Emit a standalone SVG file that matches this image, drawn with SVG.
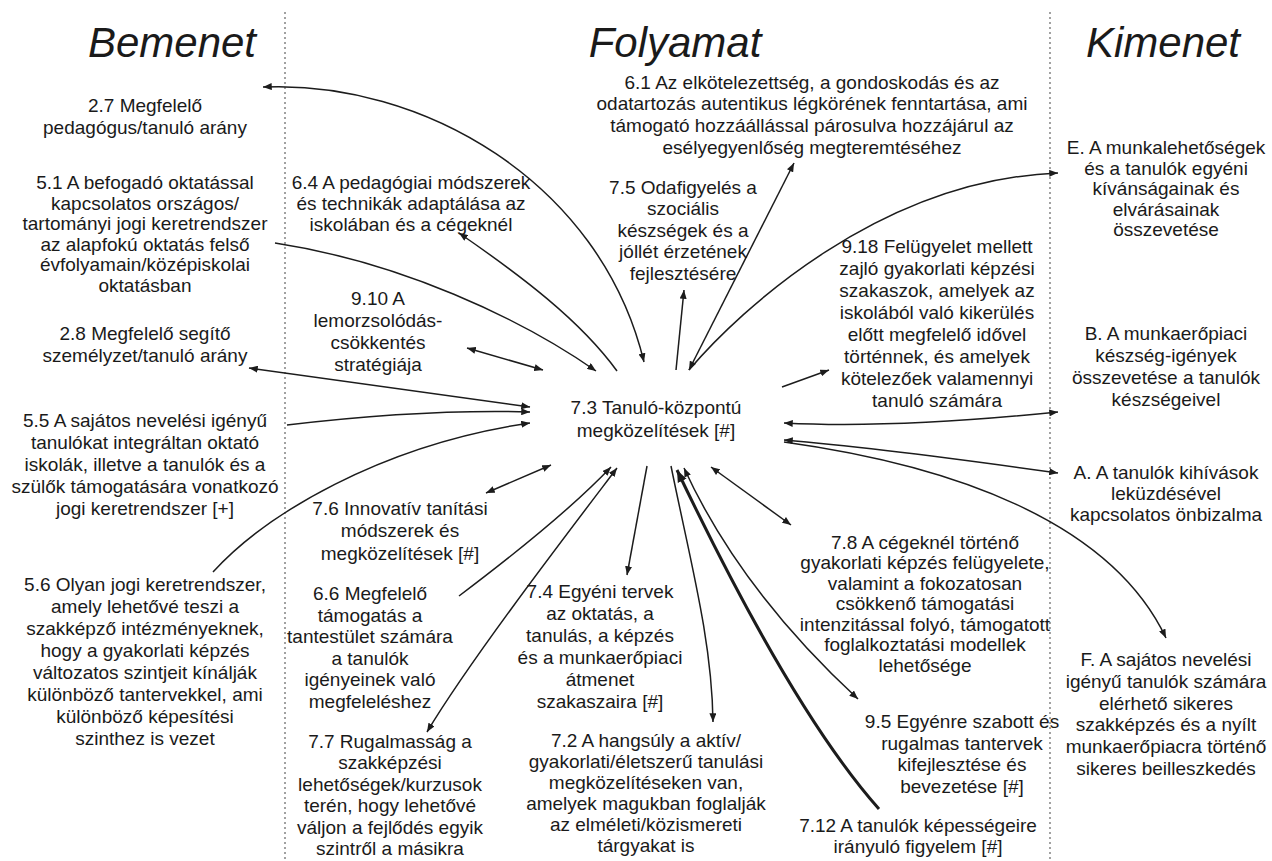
<svg xmlns="http://www.w3.org/2000/svg" width="1272" height="861" viewBox="0 0 1272 861">
<defs>
<marker id="ah" viewBox="0 0 10 8" refX="10" refY="4" markerUnits="userSpaceOnUse" markerWidth="9" markerHeight="7" orient="auto-start-reverse"><path d="M0,0 L10,4 L0,8 z" fill="#1c1c1c"/></marker>
<marker id="ahb" viewBox="0 0 10 8" refX="10" refY="4" markerUnits="userSpaceOnUse" markerWidth="12" markerHeight="10" orient="auto-start-reverse"><path d="M0,0 L10,4 L0,8 z" fill="#1c1c1c"/></marker>
</defs>
<style>
text{font-family:"Liberation Sans",Arial,sans-serif;font-size:19px;fill:#1a1a1a;text-anchor:middle}
.h{font-size:42px;font-style:italic}
.sep{stroke:#8a8a8a;stroke-width:1.6;stroke-dasharray:2 3;fill:none}
.c{stroke:#1c1c1c;stroke-width:1.5;fill:none}
.t{stroke:#1c1c1c;stroke-width:3;fill:none}
</style>
<rect width="1272" height="861" fill="#fff"/>
<line class="sep" x1="285" y1="12" x2="285" y2="861"/>
<line class="sep" x1="1050" y1="12" x2="1050" y2="861"/>
<text class="h" x="172" y="57">Bemenet</text>
<text class="h" x="675" y="57">Folyamat</text>
<text class="h" x="1163" y="57">Kimenet</text>
<g id="connectors">
<path class="c" d="M644,362 C600,180 420,80 263,87" marker-end="url(#ah)" marker-start="url(#ah)"/>
<path class="c" d="M275,243 C400,262 520,318 596,371" marker-end="url(#ah)"/>
<path class="c" d="M617,371 C580,320 520,275 459,233" marker-end="url(#ah)"/>
<path class="c" d="M467,348 L543,370" marker-start="url(#ah)" marker-end="url(#ah)"/>
<path class="c" d="M249,368 L530,407" marker-start="url(#ah)" marker-end="url(#ah)"/>
<path class="c" d="M287,425 C380,414 460,410 530,412" marker-end="url(#ah)"/>
<path class="c" d="M213,572 C265,515 380,445 530,423" marker-end="url(#ah)"/>
<path class="c" d="M486,493 L551,465" marker-start="url(#ah)" marker-end="url(#ah)"/>
<path class="c" d="M459,596 C520,550 575,505 611,467" marker-end="url(#ah)"/>
<path class="c" d="M427,732 C470,660 570,530 617,468" marker-start="url(#ah)" marker-end="url(#ah)"/>
<path class="c" d="M647,466 L627,575" marker-end="url(#ah)"/>
<path class="c" d="M671,466 C690,560 712,640 713,722" marker-end="url(#ah)"/>
<path class="t" d="M879,809 C800,720 720,560 677,470" marker-end="url(#ahb)"/>
<path class="c" d="M858,699 Q740,590 684,468" marker-start="url(#ah)" marker-end="url(#ah)"/>
<path class="c" d="M711,467 L791,525" marker-start="url(#ah)" marker-end="url(#ah)"/>
<path class="c" d="M676,370 L684,290" marker-end="url(#ah)"/>
<path class="c" d="M689,370 L794,163" marker-start="url(#ah)" marker-end="url(#ah)"/>
<path class="c" d="M689,370 C740,310 880,180 1058,173" marker-end="url(#ah)"/>
<path class="c" d="M782,387 L829,370" marker-end="url(#ah)"/>
<path class="c" d="M784,423 C880,428 980,420 1058,412" marker-start="url(#ah)" marker-end="url(#ah)"/>
<path class="c" d="M784,440 C880,448 980,462 1058,473" marker-start="url(#ah)" marker-end="url(#ah)"/>
<path class="c" d="M784,442 C950,465 1110,520 1166,638" marker-end="url(#ah)"/>
</g>
<g id="n27"><text x="145" y="112">2.7 Megfelelő</text><text x="145" y="134">pedagógus/tanuló arány</text></g>
<g id="n51"><text x="145" y="189">5.1 A befogadó oktatással</text><text x="145" y="210">kapcsolatos országos/</text><text x="145" y="230">tartományi jogi keretrendszer</text><text x="145" y="251">az alapfokú oktatás felső</text><text x="145" y="271">évfolyamain/középiskolai</text><text x="145" y="292">oktatásban</text></g>
<g id="n28"><text x="145" y="340">2.8 Megfelelő segítő</text><text x="145" y="362">személyzet/tanuló arány</text></g>
<g id="n55"><text x="145" y="427">5.5 A sajátos nevelési igényű</text><text x="145" y="449">tanulókat integráltan oktató</text><text x="145" y="471">iskolák, illetve a tanulók és a</text><text x="145" y="493">szülők támogatására vonatkozó</text><text x="145" y="515">jogi keretrendszer [+]</text></g>
<g id="n56"><text x="145" y="591">5.6 Olyan jogi keretrendszer,</text><text x="145" y="613">amely lehetővé teszi a</text><text x="145" y="635">szakképző intézményeknek,</text><text x="145" y="657">hogy a gyakorlati képzés</text><text x="145" y="679">változatos szintjeit kínálják</text><text x="145" y="701">különböző tantervekkel, ami</text><text x="145" y="723">különböző képesítési</text><text x="145" y="745">szinthez is vezet</text></g>
<g id="n64"><text x="411" y="189">6.4 A pedagógiai módszerek</text><text x="411" y="210">és technikák adaptálása az</text><text x="411" y="231">iskolában és a cégeknél</text></g>
<g id="n910"><text x="378" y="305">9.10 A</text><text x="378" y="327">lemorzsolódás-</text><text x="378" y="349">csökkentés</text><text x="378" y="371">stratégiája</text></g>
<g id="n76"><text x="400" y="515">7.6 Innovatív tanítási</text><text x="400" y="537">módszerek és</text><text x="400" y="560">megközelítések [#]</text></g>
<g id="n66"><text x="370" y="600">6.6 Megfelelő</text><text x="370" y="622">támogatás a</text><text x="370" y="643">tantestület számára</text><text x="370" y="665">a tanulók</text><text x="370" y="686">igényeinek való</text><text x="370" y="708">megfeleléshez</text></g>
<g id="n77"><text x="390" y="748">7.7 Rugalmasság a</text><text x="390" y="769">szakképzési</text><text x="390" y="791">lehetőségek/kurzusok</text><text x="390" y="812">terén, hogy lehetővé</text><text x="390" y="834">váljon a fejlődés egyik</text><text x="390" y="855">szintről a másikra</text></g>
<g id="n61"><text x="812" y="89">6.1 Az elkötelezettség, a gondoskodás és az</text><text x="812" y="110">odatartozás autentikus légkörének fenntartása, ami</text><text x="812" y="132">támogató hozzáállással párosulva hozzájárul az</text><text x="812" y="154">esélyegyenlőség megteremtéséhez</text></g>
<g id="n75"><text x="683" y="194">7.5 Odafigyelés a</text><text x="683" y="215">szociális</text><text x="683" y="237">készségek és a</text><text x="683" y="258">jóllét érzetének</text><text x="683" y="280">fejlesztésére</text></g>
<g id="n73"><text x="656" y="414">7.3 Tanuló-központú</text><text x="656" y="437">megközelítések [#]</text></g>
<g id="n918"><text x="937" y="253">9.18 Felügyelet mellett</text><text x="937" y="275">zajló gyakorlati képzési</text><text x="937" y="297">szakaszok, amelyek az</text><text x="937" y="319">iskolából való kikerülés</text><text x="937" y="341">előtt megfelelő idővel</text><text x="937" y="363">történnek, és amelyek</text><text x="937" y="385">kötelezőek valamennyi</text><text x="937" y="407">tanuló számára</text></g>
<g id="n74"><text x="600" y="598">7.4 Egyéni tervek</text><text x="600" y="620">az oktatás, a</text><text x="600" y="642">tanulás, a képzés</text><text x="600" y="664">és a munkaerőpiaci</text><text x="600" y="686">átmenet</text><text x="600" y="708">szakaszaira [#]</text></g>
<g id="n72"><text x="646" y="747">7.2 A hangsúly a aktív/</text><text x="646" y="768">gyakorlati/életszerű tanulási</text><text x="646" y="789">megközelítéseken van,</text><text x="646" y="810">amelyek magukban foglalják</text><text x="646" y="831">az elméleti/közismereti</text><text x="646" y="852">tárgyakat is</text></g>
<g id="n78"><text x="925" y="549">7.8 A cégeknél történő</text><text x="925" y="569">gyakorlati képzés felügyelete,</text><text x="925" y="590">valamint a fokozatosan</text><text x="925" y="610">csökkenő támogatási</text><text x="925" y="631">intenzitással folyó, támogatott</text><text x="925" y="651">foglalkoztatási modellek</text><text x="925" y="672">lehetősége</text></g>
<g id="n95"><text x="962" y="728">9.5 Egyénre szabott és</text><text x="962" y="750">rugalmas tantervek</text><text x="962" y="771">kifejlesztése és</text><text x="962" y="793">bevezetése [#]</text></g>
<g id="n712"><text x="918" y="832">7.12 A tanulók képességeire</text><text x="918" y="853">irányuló figyelem [#]</text></g>
<g id="nE"><text x="1166" y="154">E. A munkalehetőségek</text><text x="1166" y="175">és a tanulók egyéni</text><text x="1166" y="195">kívánságainak és</text><text x="1166" y="216">elvárásainak</text><text x="1166" y="236">összevetése</text></g>
<g id="nB"><text x="1166" y="340">B. A munkaerőpiaci</text><text x="1166" y="362">készség-igények</text><text x="1166" y="384">összevetése a tanulók</text><text x="1166" y="406">készségeivel</text></g>
<g id="nA"><text x="1166" y="479">A. A tanulók kihívások</text><text x="1166" y="500">leküzdésével</text><text x="1166" y="521">kapcsolatos önbizalma</text></g>
<g id="nF"><text x="1166" y="666">F. A sajátos nevelési</text><text x="1166" y="688">igényű tanulók számára</text><text x="1166" y="710">elérhető sikeres</text><text x="1166" y="731">szakképzés és a nyílt</text><text x="1166" y="753">munkaerőpiacra történő</text><text x="1166" y="775">sikeres beilleszkedés</text></g>
</svg>
